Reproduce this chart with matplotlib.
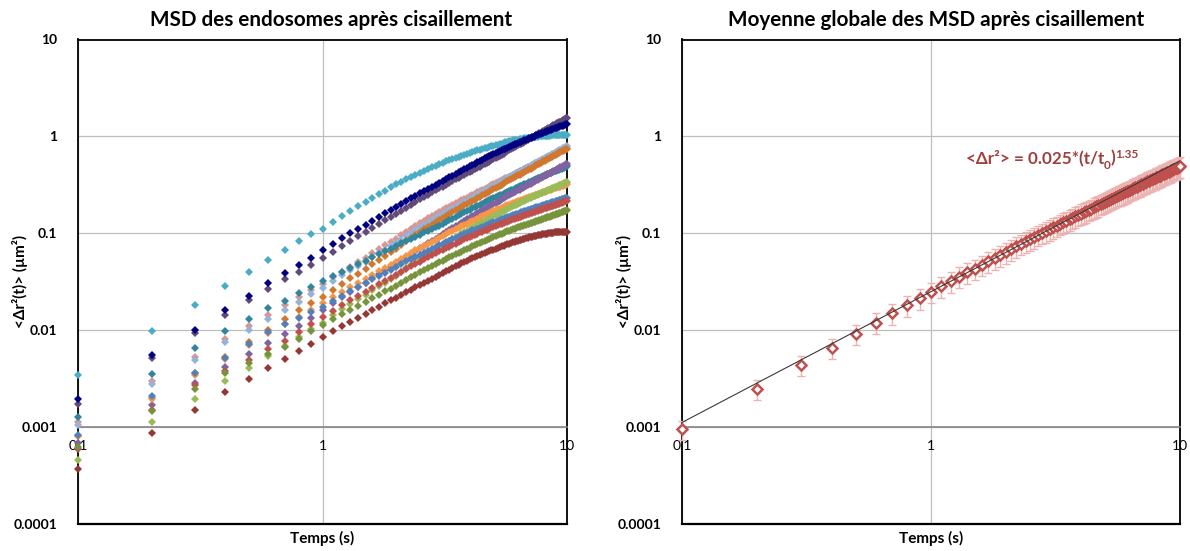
import matplotlib.pyplot as plt
import numpy as np

plt.rcParams['font.family'] = ['Lato', 'DejaVu Sans']

# time points (s)
temps = [round(0.1 * k, 1) for k in range(1, 101)]

# MSD of each endosome, in 1e-3 um^2
cyan = [3.44, 9.7, 18.2, 28.6, 40, 53.6, 68, 84, 98, 112,
        132, 151, 171, 190, 210, 232, 254, 276, 298, 320,
        340, 360, 380, 400, 420, 440, 460, 480, 500, 520,
        536, 552, 568, 584, 600, 616, 632, 648, 664, 680,
        692, 704, 716, 728, 740, 752, 764, 776, 788, 800,
        811, 822, 833, 844, 855, 866, 877, 888, 899, 910,
        916, 922, 928, 934, 940, 946, 952, 958, 964, 970,
        974, 978, 982, 986, 990, 994, 998, 1002, 1006, 1010,
        1012, 1014, 1016, 1018, 1020, 1022, 1024, 1026, 1028, 1030,
        1031, 1032, 1033, 1034, 1035, 1036, 1037, 1038, 1039, 1040]
navy = [1.96, 5.56, 10, 16, 22.8, 30.5, 39, 47.5, 56.1, 67,
        78, 89, 100, 111, 122, 135, 148, 161, 174, 187,
        201, 216, 230, 244, 259, 273, 287, 301, 316, 330,
        346, 362, 378, 394, 410, 426, 442, 458, 474, 490,
        507, 524, 541, 558, 575, 592, 609, 626, 643, 660,
        675, 690, 705, 720, 735, 750, 765, 780, 795, 810,
        825, 839, 854, 868, 883, 897, 912, 926, 941, 955,
        969, 982, 996, 1009, 1023, 1036, 1050, 1063, 1077, 1090,
        1103, 1116, 1129, 1142, 1155, 1168, 1181, 1194, 1207, 1220,
        1232, 1244, 1256, 1268, 1280, 1292, 1304, 1316, 1328, 1340]
violet = [1.75, 5.2, 9.4, 14.5, 20.3, 26.6, 34, 40, 47, 55,
          64, 74, 83, 93, 102, 113, 124, 136, 147, 158,
          171, 184, 198, 211, 224, 237, 250, 264, 277, 290,
          304, 318, 332, 346, 360, 373, 387, 401, 415, 429,
          444, 459, 474, 489, 505, 520, 535, 550, 565, 580,
          597, 614, 632, 649, 666, 683, 700, 718, 735, 752,
          770, 789, 807, 825, 844, 862, 880, 898, 917, 935,
          955, 974, 994, 1013, 1033, 1052, 1072, 1091, 1111, 1130,
          1151, 1171, 1192, 1213, 1234, 1254, 1275, 1296, 1316, 1337,
          1359, 1380, 1402, 1423, 1445, 1466, 1488, 1509, 1531, 1552]
teal = [1.27, 3.55, 6.5, 9.8, 13.2, 16.9, 20.2, 24.3, 28, 32,
        36, 40, 44, 48, 52, 56.4, 60.8, 65.2, 69.6, 74,
        78.6, 83.2, 87.8, 92.4, 97, 102, 106, 111, 115, 120,
        126, 131, 137, 142, 148, 153, 159, 164, 170, 175,
        181, 186, 192, 197, 203, 208, 214, 219, 225, 230,
        235, 241, 246, 251, 256, 262, 267, 272, 278, 283,
        288, 294, 299, 305, 310, 315, 321, 326, 332, 337,
        342, 348, 353, 358, 364, 369, 374, 380, 385, 390,
        395, 400, 405, 410, 415, 420, 425, 430, 435, 440,
        445, 450, 455, 460, 465, 470, 475, 480, 485, 490]
pink = [1.14, 3.0, 5.3, 8.1, 11.1, 14.5, 18.1, 22, 26, 30,
        35.1, 40.2, 45.4, 50.5, 55.6, 62.1, 68.6, 75, 81.5, 88,
        95.8, 104, 111, 119, 127, 135, 143, 150, 158, 166,
        174, 181, 189, 196, 204, 211, 219, 226, 234, 241,
        249, 257, 265, 273, 281, 288, 296, 304, 312, 320,
        328, 336, 344, 352, 360, 368, 376, 384, 392, 400,
        409, 417, 426, 435, 444, 452, 461, 470, 478, 487,
        496, 505, 514, 523, 532, 540, 549, 558, 567, 576,
        585, 594, 603, 612, 622, 631, 640, 649, 658, 667,
        676, 686, 695, 704, 714, 723, 732, 741, 751, 760]
steel = [1.04, 2.78, 4.9, 7.5, 10, 12.9, 16, 19.6, 23.5, 27.5,
         32.2, 36.9, 41.6, 46.3, 51, 56.6, 62.2, 67.8, 73.4, 79,
         86.1, 93.2, 100, 107, 115, 122, 129, 136, 143, 150,
         158, 165, 173, 180, 188, 196, 203, 211, 218, 226,
         234, 242, 251, 259, 267, 275, 283, 292, 300, 308,
         317, 326, 334, 343, 352, 361, 370, 378, 387, 396,
         405, 414, 424, 433, 442, 451, 460, 470, 479, 488,
         498, 507, 517, 526, 536, 546, 555, 565, 574, 584,
         594, 604, 614, 624, 635, 645, 655, 665, 675, 685,
         696, 707, 718, 729, 741, 752, 763, 774, 785, 796]
orange = [0.8, 2.0, 3.6, 5.3, 7.5, 10, 13, 16.2, 19, 22,
          26.1, 30.2, 34.2, 38.3, 42.4, 47.7, 53, 58.4, 63.7, 69,
          75.8, 82.6, 89.4, 96.2, 103, 110, 117, 123, 130, 137,
          144, 151, 158, 165, 173, 180, 187, 194, 201, 208,
          216, 223, 231, 239, 247, 254, 262, 270, 277, 285,
          293, 302, 310, 318, 327, 335, 343, 351, 360, 368,
          377, 386, 395, 404, 413, 421, 430, 439, 448, 457,
          466, 476, 485, 495, 504, 513, 523, 532, 542, 551,
          561, 571, 580, 590, 600, 610, 620, 629, 639, 649,
          659, 669, 679, 689, 700, 710, 720, 730, 740, 750]
light_orange = [0.8, 1.95, 3.45, 5.0, 7.0, 9.3, 11.5, 13.8, 16.3, 19,
                22, 24.9, 27.9, 30.8, 33.8, 37.2, 40.6, 44, 47.4, 50.8,
                54.7, 58.6, 62.6, 66.5, 70.4, 74.3, 78.2, 82.2, 86.1, 90,
                94, 98, 102, 106, 110, 114, 118, 122, 126, 130,
                134, 138, 142, 146, 150, 154, 158, 162, 166, 170,
                173, 177, 180, 184, 187, 190, 194, 197, 201, 204,
                207, 210, 214, 217, 220, 223, 226, 230, 233, 236,
                239, 242, 245, 248, 251, 254, 257, 260, 263, 266,
                269, 272, 274, 277, 280, 283, 286, 288, 291, 294,
                297, 299, 302, 304, 307, 310, 312, 315, 317, 320]
blue = [0.82, 2.1, 3.6, 5.2, 7.2, 9.5, 11.5, 13.5, 15.5, 17.5,
        20.1, 22.7, 25.3, 27.9, 30.5, 33.4, 36.4, 39.3, 42.3, 45.2,
        48.2, 51.2, 54.1, 57.1, 60.1, 63.1, 66.1, 69, 72, 75,
        77.9, 80.8, 83.7, 86.6, 89.5, 92.4, 95.3, 98.2, 101, 104,
        107, 109, 112, 114, 117, 120, 122, 125, 127, 130,
        132, 135, 137, 139, 142, 144, 146, 148, 151, 153,
        155, 157, 160, 162, 164, 166, 168, 171, 173, 175,
        177, 179, 181, 183, 185, 187, 189, 191, 193, 195,
        197, 199, 201, 203, 205, 206, 208, 210, 212, 214,
        216, 218, 220, 222, 224, 226, 228, 230, 232, 234]
purple = [0.68, 1.7, 2.86, 4.2, 5.7, 7.3, 9.2, 11.1, 13.5, 16.1,
          19, 22, 24.9, 27.9, 30.8, 34.4, 38, 41.6, 45.2, 48.8,
          53.1, 57.4, 61.8, 66.1, 70.4, 74.7, 79, 83.4, 87.7, 92,
          97.2, 102, 108, 113, 118, 123, 128, 134, 139, 144,
          150, 155, 161, 166, 172, 178, 183, 189, 194, 200,
          206, 212, 218, 224, 230, 235, 241, 247, 253, 259,
          265, 271, 277, 283, 290, 296, 302, 308, 314, 320,
          326, 333, 339, 346, 352, 358, 365, 371, 378, 384,
          391, 397, 404, 410, 417, 424, 430, 437, 443, 450,
          457, 464, 471, 478, 485, 492, 499, 506, 513, 520]
red = [0.6, 1.5, 2.7, 3.8, 4.9, 6.4, 7.8, 9.5, 11.5, 13.7,
       15.9, 18.1, 20.3, 22.5, 24.7, 27.2, 29.7, 32.2, 34.7, 37.2,
       40, 42.8, 45.5, 48.3, 51.1, 53.9, 56.7, 59.4, 62.2, 65,
       67.7, 70.4, 73, 75.7, 78.4, 81.1, 83.8, 86.4, 89.1, 91.8,
       94.3, 96.8, 99.4, 102, 104, 107, 109, 112, 115, 117,
       119, 121, 124, 126, 128, 130, 132, 135, 137, 139,
       141, 143, 145, 147, 149, 151, 153, 155, 157, 159,
       161, 163, 165, 167, 169, 171, 173, 175, 177, 179,
       181, 183, 184, 186, 188, 190, 192, 193, 195, 197,
       199, 201, 203, 205, 207, 209, 211, 213, 215, 217]
light_green = [0.46, 1.12, 1.96, 3.0, 4.1, 5.4, 6.9, 8.5, 10.2, 12,
               14.2, 16.4, 18.6, 20.8, 23, 25.7, 28.4, 31, 33.7, 36.4,
               40, 43.5, 47.1, 50.6, 54.2, 57.8, 61.3, 64.9, 68.4, 72,
               75.8, 79.6, 83.4, 87.2, 91, 94.8, 98.6, 102, 106, 110,
               114, 118, 122, 126, 130, 134, 138, 142, 146, 150,
               154, 158, 162, 166, 170, 174, 178, 182, 186, 190,
               194, 198, 202, 206, 210, 214, 218, 222, 226, 230,
               234, 237, 241, 244, 248, 251, 255, 258, 262, 265,
               269, 272, 276, 279, 283, 286, 290, 293, 297, 300,
               304, 308, 312, 316, 320, 324, 328, 332, 336, 340]
olive = [0.63, 1.47, 2.47, 3.6, 4.6, 5.7, 6.7, 8.1, 9.7, 11.3,
         12.9, 14.6, 16.2, 17.9, 19.5, 21.4, 23.2, 25.1, 26.9, 28.8,
         30.9, 33, 35.2, 37.3, 39.4, 41.5, 43.6, 45.8, 47.9, 50,
         52.1, 54.2, 56.3, 58.4, 60.5, 62.6, 64.7, 66.8, 68.9, 71,
         73.1, 75.2, 77.3, 79.4, 81.5, 83.6, 85.7, 87.8, 89.9, 92,
         93.8, 95.6, 97.4, 99.2, 101, 103, 105, 106, 108, 110,
         112, 113, 115, 116, 118, 120, 121, 123, 124, 126,
         128, 129, 131, 132, 134, 135, 137, 138, 140, 141,
         143, 144, 146, 147, 149, 151, 152, 154, 155, 157,
         159, 160, 162, 163, 165, 166, 168, 169, 171, 172]
dark_red = [0.37, 0.87, 1.5, 2.3, 3.1, 4.1, 5.0, 6.1, 7.2, 8.5,
            9.7, 11, 12.2, 13.5, 14.7, 16.1, 17.5, 18.9, 20.3, 21.7,
            23.2, 24.8, 26.3, 27.8, 29.4, 30.9, 32.4, 33.9, 35.5, 37,
            38.7, 40.4, 42.1, 43.8, 45.5, 47.2, 48.9, 50.6, 52.3, 54,
            55.4, 56.8, 58.2, 59.6, 61, 62.4, 63.8, 65.2, 66.6, 68,
            69.3, 70.6, 71.9, 73.2, 74.5, 75.8, 77.1, 78.4, 79.7, 81,
            82, 83, 84, 85, 86, 87, 88, 89, 90, 91,
            91.7, 92.4, 93.1, 93.8, 94.5, 95.2, 95.9, 96.6, 97.3, 98,
            98.4, 98.8, 99.2, 99.6, 100, 100.4, 100.8, 101, 102, 102,
            102, 102, 103, 103, 103, 103, 104, 104, 104, 104]

# global mean and its spread, in 1e-3 um^2
moyenne = [0.95, 2.5, 4.4, 6.6, 9.2, 12, 14.9, 18, 21.4, 24.9,
           28.5, 32.1, 35.8, 39.4, 43, 47.2, 51.4, 55.6, 59.8, 64,
           68.6, 73.2, 77.8, 82.4, 87, 91.6, 96.2, 101, 105, 110,
           115, 120, 125, 130, 135, 140, 145, 150, 155, 160,
           165, 170, 175, 180, 185, 191, 196, 201, 206, 211,
           217, 222, 228, 233, 238, 244, 249, 254, 260, 265,
           271, 276, 282, 287, 292, 298, 303, 309, 314, 320,
           325, 331, 337, 343, 348, 354, 360, 366, 371, 377,
           383, 388, 394, 400, 405, 411, 417, 422, 428, 434,
           440, 446, 451, 457, 463, 469, 474, 480, 486, 492]
ecart = [0.21, 0.58, 1.0, 1.5, 2.2, 2.9, 3.6, 4.3, 5.1, 6.0,
         6.8, 7.7, 8.6, 9.5, 10.3, 11.3, 12.3, 13.3, 14.4, 15.4,
         16.5, 17.6, 18.7, 19.8, 20.9, 22, 23.1, 24.2, 25.3, 26.4,
         27.6, 28.8, 30, 31.2, 32.4, 33.6, 34.8, 36, 37.2, 38.4,
         39.6, 40.8, 42, 43.2, 44.4, 45.8, 47, 48.2, 49.4, 50.6,
         52, 53.3, 54.7, 55.9, 57.1, 58.6, 59.8, 61, 62.4, 63.6,
         65, 66.2, 67.7, 68.9, 70.1, 71.5, 72.7, 74.2, 75.4, 76.8,
         78, 79.4, 80.9, 82.3, 83.5, 85, 86.4, 87.8, 89, 90.5,
         91.9, 93.1, 94.6, 96, 97.2, 98.6, 100, 101, 103, 104,
         106, 107, 108, 110, 111, 113, 114, 115, 117, 118]

# power-law fit <dr2> = A * (t/t0)^alpha
fit_A = 0.025
fit_alpha = 1.35

xticks = [0.1, 1, 10]
xlabels = ['0.1', '1', '10']
yticks = [1e-4, 1e-3, 1e-2, 1e-1, 1, 10]
ylabels = ['0.0001', '0.001', '0.01', '0.1', '1', '10']

series = [
    (cyan, '#4BACC6'), (violet, '#604A7B'), (navy, '#000080'),
    (pink, '#D99694'), (steel, '#95B3D7'), (orange, '#D2772E'),
    (teal, '#31859C'), (purple, '#8064A2'), (light_orange, '#F79646'),
    (light_green, '#9BBB59'), (blue, '#4F81BD'), (red, '#C0504D'),
    (olive, '#77933C'), (dark_red, '#953735'),
]

t = np.array(temps)

fig = plt.figure(figsize=(11.9, 5.51), dpi=100)
ax1 = fig.add_axes([78 / 1190, 1 - 524 / 551, 489 / 1190, 484.5 / 551])
ax2 = fig.add_axes([682 / 1190, 1 - 524 / 551, 498 / 1190, 484.5 / 551])


def style_axes(ax, title, title_x):
    ax.set_xscale('log')
    ax.set_yscale('log')
    ax.set_xlim(0.1, 10)
    ax.set_ylim(1e-4, 10)
    ax.set_xticks(xticks, labels=xlabels, fontweight='bold', fontsize=10)
    ax.set_yticks(yticks, labels=ylabels, fontweight='bold', fontsize=10)
    ax.xaxis.set_minor_locator(plt.NullLocator())
    ax.yaxis.set_minor_locator(plt.NullLocator())
    ax.tick_params(which='both', length=0)
    ax.tick_params(axis='y', pad=15)
    ax.tick_params(axis='x', pad=9)
    ax.grid(True, color='#BFBFBF', linewidth=0.9)
    ax.set_axisbelow(True)
    # horizontal axis crosses at 0.001
    ax.spines['bottom'].set_position(('data', 1e-3))
    ax.spines['bottom'].set_color('#868686')
    ax.spines['bottom'].set_linewidth(1.2)
    for side in ['left', 'top', 'right']:
        ax.spines[side].set_color('black')
        ax.spines[side].set_linewidth(1.3)
    ax.axhline(1e-4, color='black', linewidth=1.6, clip_on=False)
    ax.set_xlabel('Temps (s)', fontweight='bold', fontsize=11)
    ax.xaxis.set_label_coords(0.5, -0.014)
    ax.set_ylabel('<Δr²(t)> (µm²)', fontweight='bold', fontsize=11)
    ax.set_title(title, fontweight='bold', fontsize=14.9, pad=10, x=title_x)


style_axes(ax1, 'MSD des endosomes après cisaillement', 0.517)
ax1.yaxis.set_label_coords(-0.102, 0.5)
for vals, col in series:
    ax1.plot(t, np.array(vals) / 1000, 'D', color=col, markersize=4.1,
             markeredgewidth=0, zorder=3, clip_on=False)

style_axes(ax2, 'Moyenne globale des MSD après cisaillement', 0.511)
ax2.yaxis.set_label_coords(-0.100, 0.5)
m = np.array(moyenne) / 1000
s = np.array(ecart) / 1000
ax2.errorbar(t, m, yerr=s, fmt='none', ecolor='#EBB3B1', elinewidth=1,
             capsize=3, capthick=1, zorder=3, clip_on=False)
ax2.plot(t, m, 'D', markerfacecolor='white', markeredgecolor='#C0504D',
         markersize=5.6, markeredgewidth=1.8, linestyle='none', zorder=4,
         clip_on=False)
ax2.plot(t, fit_A * t ** fit_alpha, color='#3A3A3A', linewidth=0.8, zorder=5)

# equation of the fit, built piece by piece for the sub/superscripts
eq_col = '#A0403D'
t1 = ax2.text(0.570, 0.745, '<Δr²> = 0.025*(t/t', transform=ax2.transAxes,
              fontsize=12.3, fontweight='bold', color=eq_col, va='baseline')
t2 = ax2.annotate('0', xy=(1, 0.05), xycoords=t1, fontsize=8.5,
                  fontweight='bold', color=eq_col, va='center')
t3 = ax2.annotate(')', xy=(1, 0), xycoords=(t2, t1), fontsize=12.3,
                  fontweight='bold', color=eq_col, va='bottom')
t4 = ax2.annotate('1.35', xy=(1, 1.02), xycoords=(t3, t1), fontsize=8.5,
                  fontweight='bold', color=eq_col, va='top')

fig.savefig('out.png', dpi=100)
